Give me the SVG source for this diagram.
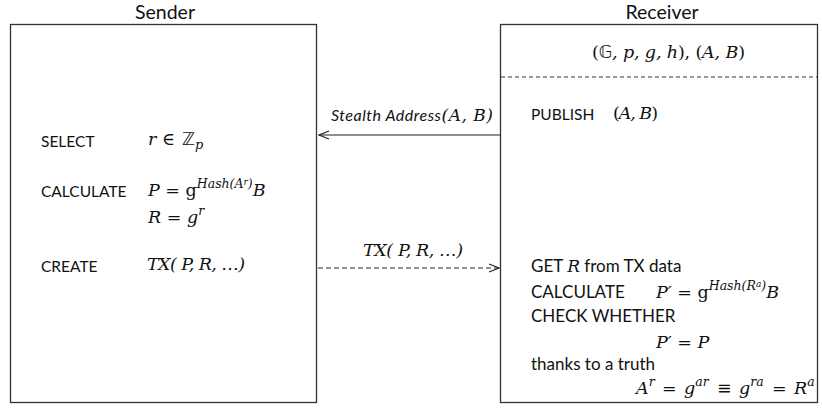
<svg xmlns="http://www.w3.org/2000/svg" width="822" height="408" viewBox="0 0 822 408">
<style>
.box{fill:#fff;stroke:#333;stroke-width:1.3}
.t{font-family:Lato,"Open Sans","Liberation Sans",sans-serif;font-size:15.5px;fill:#111}
.t2{font-family:Lato,"Open Sans","Liberation Sans",sans-serif;font-size:17px;fill:#111}
.h{font-family:Lato,"Open Sans","Liberation Sans",sans-serif;font-size:19.5px;fill:#111}
.m{font-family:"DejaVu Serif","Liberation Serif",serif;font-style:italic;font-size:17.5px;fill:#111}
.u{font-style:normal}
.s{font-size:12.5px}
.ss{font-size:9px}
.c{stroke:#222;stroke-width:1.2;fill:none}
</style>
<defs>
<marker id="ah" markerWidth="12" markerHeight="10" refX="11" refY="5" orient="auto" markerUnits="userSpaceOnUse">
<path d="M1,1 L11,5 L1,9" fill="none" stroke="#222" stroke-width="1.2"/>
</marker>
</defs>
<text class="h" x="165" y="19" text-anchor="middle">Sender</text>
<text class="h" x="662" y="19" text-anchor="middle">Receiver</text>
<g id="sender">
<rect class="box" x="10.5" y="24.5" width="306" height="378"/>
<text class="t" x="41" y="147">SELECT</text>
<text class="m" y="145"><tspan x="148">r</tspan><tspan x="162" class="u">∈</tspan><tspan x="182" class="u" font-family="DejaVu Sans">ℤ</tspan><tspan x="195" dy="4" font-size="13">p</tspan></text>
<text class="t" x="41" y="197">CALCULATE</text>
<text class="m" x="148" y="196">P <tspan class="u">=</tspan> <tspan class="u">g</tspan><tspan dy="-8" class="s">Hash(A</tspan><tspan dy="-3" class="ss">r</tspan><tspan dy="3" class="s">)</tspan><tspan dy="8">B</tspan></text>
<text class="m" x="148" y="223">R <tspan class="u">=</tspan> g<tspan dy="-8" class="s">r</tspan></text>
<text class="t" x="41" y="272">CREATE</text>
<text class="m" x="147" y="270" textLength="98" lengthAdjust="spacing">TX( P, R, …)</text>
</g>
<g id="receiver">
<rect class="box" x="500.5" y="24.5" width="317" height="378"/>
<line x1="501" y1="77" x2="818" y2="77" stroke="#333" stroke-width="1.2" stroke-dasharray="4,3"/>
<text class="m" x="592" y="58" textLength="153" lengthAdjust="spacing"><tspan class="u">(</tspan><tspan class="u" font-family="DejaVu Sans">𝔾</tspan>, p, g, h<tspan class="u">),</tspan> <tspan class="u">(</tspan>A, B<tspan class="u">)</tspan></text>
<text class="t" x="531" y="120" font-size="16">PUBLISH</text>
<text class="m" x="613" y="119" textLength="45" lengthAdjust="spacing"><tspan class="u">(</tspan>A, B<tspan class="u">)</tspan></text>
<text class="t2" x="531" y="272">GET <tspan font-family="DejaVu Serif" font-style="italic">R</tspan> from TX data</text>
<text class="t2" x="531" y="298">CALCULATE</text>
<text class="m" x="656" y="298">P′ <tspan class="u">=</tspan> <tspan class="u">g</tspan><tspan dy="-8" class="s">Hash(R</tspan><tspan dy="-3" class="ss">a</tspan><tspan dy="3" class="s">)</tspan><tspan dy="8">B</tspan></text>
<text class="t2" x="531" y="322">CHECK WHETHER</text>
<text class="m" x="656" y="348">P′ <tspan class="u">=</tspan> P</text>
<text class="t2" x="531" y="370">thanks to a truth</text>
<text class="m" y="394"><tspan x="636">A</tspan><tspan dy="-8" class="s">r</tspan><tspan x="662" dy="8" class="u">=</tspan><tspan x="684">g</tspan><tspan dy="-8" class="s">ar</tspan><tspan x="717" dy="8" class="u">≡</tspan><tspan x="739">g</tspan><tspan dy="-8" class="s">ra</tspan><tspan x="772" dy="8" class="u">=</tspan><tspan x="794">R</tspan><tspan dy="-8" class="s">a</tspan></text>
</g>
<g id="connectors">
<line class="c" x1="500" y1="135" x2="319" y2="135" marker-end="url(#ah)"/>
<text x="331" y="121" font-family="Lato,'Open Sans',sans-serif" font-style="italic" font-size="16" fill="#111" textLength="162" lengthAdjust="spacing">Stealth Address<tspan font-family="DejaVu Serif" font-size="17">(A, B)</tspan></text>
<line class="c" x1="318" y1="268" x2="499" y2="268" stroke-dasharray="5,3" marker-end="url(#ah)"/>
<text class="m" x="363" y="256" textLength="100" lengthAdjust="spacing">TX( P, R, …)</text>
</g>
</svg>
